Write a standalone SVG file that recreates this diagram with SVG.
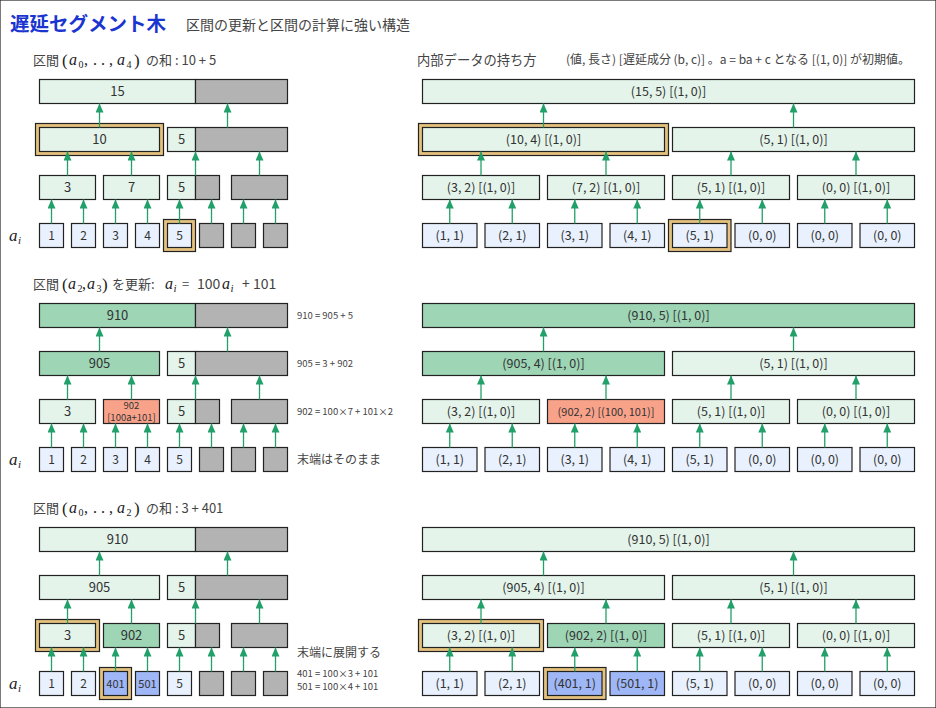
<svg xmlns="http://www.w3.org/2000/svg" width="936" height="708" viewBox="0 0 936 708">
<style>
rect{stroke:#222;stroke-width:1.2}
.lg{fill:#e4f4ea}.mg{fill:#9dd5b5}.sa{fill:#f9a28a}.lb{fill:#e8f1fd}.bl{fill:#9fb7f7}.gr{fill:#b3b3b3}.gd{fill:#e5c27e}
text{font-family:"Noto Sans CJK JP","Noto Sans",sans-serif;fill:#333}
.t{text-anchor:middle;font-size:13px}
.r{text-anchor:middle;font-size:12.5px}
.l{text-anchor:middle;font-size:12px}
.h{font-size:13px;fill:#444}
.m{font-family:"Liberation Serif","DejaVu Serif",serif;font-style:italic;font-size:16px;fill:#222}
.p{font-family:"Liberation Serif","DejaVu Serif",serif;font-size:17px;fill:#222}
.sb{font-size:10px;font-style:normal}
.si{font-size:11px;font-style:italic}
.nt{font-size:9.5px;fill:#444}
.nj{font-size:12px;fill:#444}
#conn line{stroke:#22a06a;stroke-width:1.3;marker-end:url(#ah)}
</style>
<defs>
<marker id="ah" markerUnits="userSpaceOnUse" markerWidth="9" markerHeight="8" viewBox="0 0 9 8" refX="9" refY="4" orient="auto"><path d="M0,0 L9,4 L0,8 z" fill="#22a06a"/></marker>
</defs>
<rect x="0" y="0" width="936" height="708" fill="#fff" stroke="none"/>
<g id="titles">
<text x="10" y="31" style="font-size:19.5px;font-weight:bold;fill:#1a35d0">遅延セグメント木</text>
<text x="186" y="30" style="font-size:14px;fill:#444">区間の更新と区間の計算に強い構造</text>
<text class="h" x="33" y="65">区間</text>
<text class="p" x="62" y="66">(</text>
<text class="m" x="69" y="65">a<tspan class="sb" x="78.5" y="68">0</tspan><tspan x="84" y="65" style="font-style:normal">,</tspan><tspan x="93" y="65" style="font-style:normal">.</tspan><tspan x="101" y="65" style="font-style:normal">.</tspan><tspan x="109" y="65" style="font-style:normal">,</tspan><tspan x="117" y="65">a</tspan><tspan class="sb" x="126.5" y="68">4</tspan></text>
<text class="p" x="134" y="66">)</text>
<text class="h" x="146" y="65">の和 : 10 + 5</text>
<text class="h" x="417" y="65" style="font-size:13.3px">内部データの持ち方</text>
<text x="566" y="64" style="font-size:12px;fill:#444">(値, 長さ) [遅延成分 (b, c)] 。a = ba + c  となる [(1, 0)] が初期値。</text>
<text class="h" x="33" y="289">区間</text>
<text class="p" x="62" y="290">(</text>
<text class="m" x="68" y="289">a<tspan class="sb" x="77.5" y="292">2</tspan><tspan x="82" y="289" style="font-style:normal">,</tspan><tspan x="87" y="289">a</tspan><tspan class="sb" x="96.5" y="292">3</tspan></text>
<text class="p" x="102" y="290">)</text>
<text class="h" x="112" y="289">を更新:</text>
<text class="m" x="165" y="289">a<tspan class="si" x="173.5" y="292">i</tspan></text>
<text class="h" x="182" y="289">=</text>
<text class="h" x="197" y="289" style="font-size:14px">100</text>
<text class="m" x="222" y="289">a<tspan class="si" x="230.5" y="292">i</tspan></text>
<text class="h" x="242" y="289" style="font-size:14px">+ 101</text>
<text class="h" x="33" y="513">区間</text>
<text class="p" x="62" y="514">(</text>
<text class="m" x="69" y="513">a<tspan class="sb" x="78.5" y="516">0</tspan><tspan x="84" y="513" style="font-style:normal">,</tspan><tspan x="93" y="513" style="font-style:normal">.</tspan><tspan x="101" y="513" style="font-style:normal">.</tspan><tspan x="109" y="513" style="font-style:normal">,</tspan><tspan x="117" y="513">a</tspan><tspan class="sb" x="126.5" y="516">2</tspan></text>
<text class="p" x="134" y="514">)</text>
<text class="h" x="146" y="513">の和 : 3 + 401</text>
<text class="m" x="9" y="241" style="font-size:17px">a<tspan class="si" x="18" y="244">i</tspan></text>
<text class="m" x="9" y="465" style="font-size:17px">a<tspan class="si" x="18" y="468">i</tspan></text>
<text class="m" x="9" y="689" style="font-size:17px">a<tspan class="si" x="18" y="692">i</tspan></text>
<text class="nt" x="297" y="319">910 = 905 + 5</text>
<text class="nt" x="297" y="367">905 = 3 + 902</text>
<text class="nt" x="297" y="415">902 = 100×7 + 101×2</text>
<text class="nj" x="297" y="464">末端はそのまま</text>
<text class="nj" x="297" y="657">末端に展開する</text>
<text class="nt" x="297" y="677">401 = 100×3 + 101</text>
<text class="nt" x="297" y="690">501 = 100×4 + 101</text>
</g>
<!-- Section 1 left -->
<g id="s1-L0"><rect class="lg" x="39.5" y="79.5" width="156" height="24"/><rect class="gr" x="195.5" y="79.5" width="92" height="24"/><text class="t" x="117.5" y="96">15</text></g>
<g id="s1-L1a"><rect class="gd" x="35.5" y="123.5" width="128" height="32"/><rect class="lg" x="39.5" y="127.5" width="120" height="24"/><text class="t" x="99.5" y="144">10</text></g>
<g id="s1-L1b"><rect class="lg" x="167.5" y="127.5" width="28" height="24"/><rect class="gr" x="195.5" y="127.5" width="92" height="24"/><text class="t" x="181.5" y="144">5</text></g>
<g id="s1-L2a"><rect class="lg" x="39.5" y="175.5" width="56" height="24"/><text class="t" x="67.5" y="192">3</text></g>
<g id="s1-L2b"><rect class="lg" x="103.5" y="175.5" width="56" height="24"/><text class="t" x="131.5" y="192">7</text></g>
<g id="s1-L2c"><rect class="lg" x="167.5" y="175.5" width="28" height="24"/><rect class="gr" x="195.5" y="175.5" width="24" height="24"/><text class="t" x="181.5" y="192">5</text></g>
<g id="s1-L2d"><rect class="gr" x="231.5" y="175.5" width="56" height="24"/></g>
<g id="s1-a0"><rect class="lb" x="39.5" y="223.5" width="24" height="24"/><text class="l" x="51.5" y="240">1</text></g>
<g id="s1-a1"><rect class="lb" x="71.5" y="223.5" width="24" height="24"/><text class="l" x="83.5" y="240">2</text></g>
<g id="s1-a2"><rect class="lb" x="103.5" y="223.5" width="24" height="24"/><text class="l" x="115.5" y="240">3</text></g>
<g id="s1-a3"><rect class="lb" x="135.5" y="223.5" width="24" height="24"/><text class="l" x="147.5" y="240">4</text></g>
<g id="s1-a4"><rect class="gd" x="163.5" y="219.5" width="32" height="32"/><rect class="lb" x="167.5" y="223.5" width="24" height="24"/><text class="l" x="179.5" y="240">5</text></g>
<g id="s1-a5"><rect class="gr" x="199.5" y="223.5" width="24" height="24"/></g>
<g id="s1-a6"><rect class="gr" x="231.5" y="223.5" width="24" height="24"/></g>
<g id="s1-a7"><rect class="gr" x="263.5" y="223.5" width="24" height="24"/></g>
<!-- Section 1 right -->
<g id="s1-R0"><rect class="lg" x="422.5" y="79.5" width="492" height="24"/><text class="r" x="668.5" y="96">(15, 5) [(1, 0)]</text></g>
<g id="s1-R1a"><rect class="gd" x="418.5" y="123.5" width="250" height="32"/><rect class="lg" x="422.5" y="127.5" width="242" height="24"/><text class="r" x="543.5" y="144">(10, 4) [(1, 0)]</text></g>
<g id="s1-R1b"><rect class="lg" x="672.5" y="127.5" width="242" height="24"/><text class="r" x="793.5" y="144">(5, 1) [(1, 0)]</text></g>
<g id="s1-R2a"><rect class="lg" x="422.5" y="175.5" width="117" height="24"/><text class="r" x="481" y="192">(3, 2) [(1, 0)]</text></g>
<g id="s1-R2b"><rect class="lg" x="547.5" y="175.5" width="117" height="24"/><text class="r" x="606" y="192">(7, 2) [(1, 0)]</text></g>
<g id="s1-R2c"><rect class="lg" x="672.5" y="175.5" width="117" height="24"/><text class="r" x="731" y="192">(5, 1) [(1, 0)]</text></g>
<g id="s1-R2d"><rect class="lg" x="797.5" y="175.5" width="117" height="24"/><text class="r" x="856" y="192">(0, 0) [(1, 0)]</text></g>
<g id="s1-r0"><rect class="lb" x="422.5" y="223.5" width="54.5" height="24"/><text class="r" x="449.75" y="240">(1, 1)</text></g>
<g id="s1-r1"><rect class="lb" x="485" y="223.5" width="54.5" height="24"/><text class="r" x="512.25" y="240">(2, 1)</text></g>
<g id="s1-r2"><rect class="lb" x="547.5" y="223.5" width="54.5" height="24"/><text class="r" x="574.75" y="240">(3, 1)</text></g>
<g id="s1-r3"><rect class="lb" x="610" y="223.5" width="54.5" height="24"/><text class="r" x="637.25" y="240">(4, 1)</text></g>
<g id="s1-r4"><rect class="gd" x="668.5" y="219.5" width="62.5" height="32"/><rect class="lb" x="672.5" y="223.5" width="54.5" height="24"/><text class="r" x="699.75" y="240">(5, 1)</text></g>
<g id="s1-r5"><rect class="lb" x="735" y="223.5" width="54.5" height="24"/><text class="r" x="762.25" y="240">(0, 0)</text></g>
<g id="s1-r6"><rect class="lb" x="797.5" y="223.5" width="54.5" height="24"/><text class="r" x="824.75" y="240">(0, 0)</text></g>
<g id="s1-r7"><rect class="lb" x="860" y="223.5" width="54.5" height="24"/><text class="r" x="887.25" y="240">(0, 0)</text></g>
<!-- Section 2 left -->
<g id="s2-L0"><rect class="mg" x="39.5" y="303.5" width="156" height="24"/><rect class="gr" x="195.5" y="303.5" width="92" height="24"/><text class="t" x="117.5" y="320">910</text></g>
<g id="s2-L1a"><rect class="mg" x="39.5" y="351.5" width="120" height="24"/><text class="t" x="99.5" y="368">905</text></g>
<g id="s2-L1b"><rect class="lg" x="167.5" y="351.5" width="28" height="24"/><rect class="gr" x="195.5" y="351.5" width="92" height="24"/><text class="t" x="181.5" y="368">5</text></g>
<g id="s2-L2a"><rect class="lg" x="39.5" y="399.5" width="56" height="24"/><text class="t" x="67.5" y="416">3</text></g>
<g id="s2-L2b"><rect class="sa" x="103.5" y="399.5" width="56" height="24"/><text class="t" x="131.5" y="408.5" style="font-size:9.5px">902</text><text class="t" x="131.5" y="421" style="font-size:9.5px">[100a+101]</text></g>
<g id="s2-L2c"><rect class="lg" x="167.5" y="399.5" width="28" height="24"/><rect class="gr" x="195.5" y="399.5" width="24" height="24"/><text class="t" x="181.5" y="416">5</text></g>
<g id="s2-L2d"><rect class="gr" x="231.5" y="399.5" width="56" height="24"/></g>
<g id="s2-a0"><rect class="lb" x="39.5" y="447.5" width="24" height="24"/><text class="l" x="51.5" y="464">1</text></g>
<g id="s2-a1"><rect class="lb" x="71.5" y="447.5" width="24" height="24"/><text class="l" x="83.5" y="464">2</text></g>
<g id="s2-a2"><rect class="lb" x="103.5" y="447.5" width="24" height="24"/><text class="l" x="115.5" y="464">3</text></g>
<g id="s2-a3"><rect class="lb" x="135.5" y="447.5" width="24" height="24"/><text class="l" x="147.5" y="464">4</text></g>
<g id="s2-a4"><rect class="lb" x="167.5" y="447.5" width="24" height="24"/><text class="l" x="179.5" y="464">5</text></g>
<g id="s2-a5"><rect class="gr" x="199.5" y="447.5" width="24" height="24"/></g>
<g id="s2-a6"><rect class="gr" x="231.5" y="447.5" width="24" height="24"/></g>
<g id="s2-a7"><rect class="gr" x="263.5" y="447.5" width="24" height="24"/></g>
<!-- Section 2 right -->
<g id="s2-R0"><rect class="mg" x="422.5" y="303.5" width="492" height="24"/><text class="r" x="668.5" y="320">(910, 5) [(1, 0)]</text></g>
<g id="s2-R1a"><rect class="mg" x="422.5" y="351.5" width="242" height="24"/><text class="r" x="543.5" y="368">(905, 4) [(1, 0)]</text></g>
<g id="s2-R1b"><rect class="lg" x="672.5" y="351.5" width="242" height="24"/><text class="r" x="793.5" y="368">(5, 1) [(1, 0)]</text></g>
<g id="s2-R2a"><rect class="lg" x="422.5" y="399.5" width="117" height="24"/><text class="r" x="481" y="416">(3, 2) [(1, 0)]</text></g>
<g id="s2-R2b"><rect class="sa" x="547.5" y="399.5" width="117" height="24"/><text class="r" x="606" y="416" style="font-size:11px">(902, 2) [(100, 101)]</text></g>
<g id="s2-R2c"><rect class="lg" x="672.5" y="399.5" width="117" height="24"/><text class="r" x="731" y="416">(5, 1) [(1, 0)]</text></g>
<g id="s2-R2d"><rect class="lg" x="797.5" y="399.5" width="117" height="24"/><text class="r" x="856" y="416">(0, 0) [(1, 0)]</text></g>
<g id="s2-r0"><rect class="lb" x="422.5" y="447.5" width="54.5" height="24"/><text class="r" x="449.75" y="464">(1, 1)</text></g>
<g id="s2-r1"><rect class="lb" x="485" y="447.5" width="54.5" height="24"/><text class="r" x="512.25" y="464">(2, 1)</text></g>
<g id="s2-r2"><rect class="lb" x="547.5" y="447.5" width="54.5" height="24"/><text class="r" x="574.75" y="464">(3, 1)</text></g>
<g id="s2-r3"><rect class="lb" x="610" y="447.5" width="54.5" height="24"/><text class="r" x="637.25" y="464">(4, 1)</text></g>
<g id="s2-r4"><rect class="lb" x="672.5" y="447.5" width="54.5" height="24"/><text class="r" x="699.75" y="464">(5, 1)</text></g>
<g id="s2-r5"><rect class="lb" x="735" y="447.5" width="54.5" height="24"/><text class="r" x="762.25" y="464">(0, 0)</text></g>
<g id="s2-r6"><rect class="lb" x="797.5" y="447.5" width="54.5" height="24"/><text class="r" x="824.75" y="464">(0, 0)</text></g>
<g id="s2-r7"><rect class="lb" x="860" y="447.5" width="54.5" height="24"/><text class="r" x="887.25" y="464">(0, 0)</text></g>
<!-- Section 3 left -->
<g id="s3-L0"><rect class="lg" x="39.5" y="527.5" width="156" height="24"/><rect class="gr" x="195.5" y="527.5" width="92" height="24"/><text class="t" x="117.5" y="544">910</text></g>
<g id="s3-L1a"><rect class="lg" x="39.5" y="575.5" width="120" height="24"/><text class="t" x="99.5" y="592">905</text></g>
<g id="s3-L1b"><rect class="lg" x="167.5" y="575.5" width="28" height="24"/><rect class="gr" x="195.5" y="575.5" width="92" height="24"/><text class="t" x="181.5" y="592">5</text></g>
<g id="s3-L2a"><rect class="gd" x="35.5" y="619.5" width="64" height="32"/><rect class="lg" x="39.5" y="623.5" width="56" height="24"/><text class="t" x="67.5" y="640">3</text></g>
<g id="s3-L2b"><rect class="mg" x="103.5" y="623.5" width="56" height="24"/><text class="t" x="131.5" y="640">902</text></g>
<g id="s3-L2c"><rect class="lg" x="167.5" y="623.5" width="28" height="24"/><rect class="gr" x="195.5" y="623.5" width="24" height="24"/><text class="t" x="181.5" y="640">5</text></g>
<g id="s3-L2d"><rect class="gr" x="231.5" y="623.5" width="56" height="24"/></g>
<g id="s3-a0"><rect class="lb" x="39.5" y="671.5" width="24" height="24"/><text class="l" x="51.5" y="688">1</text></g>
<g id="s3-a1"><rect class="lb" x="71.5" y="671.5" width="24" height="24"/><text class="l" x="83.5" y="688">2</text></g>
<g id="s3-a2"><rect class="gd" x="99.5" y="667.5" width="32" height="32"/><rect class="bl" x="103.5" y="671.5" width="24" height="24"/><text class="l" x="115.5" y="688" style="font-size:11px">401</text></g>
<g id="s3-a3"><rect class="bl" x="135.5" y="671.5" width="24" height="24"/><text class="l" x="147.5" y="688" style="font-size:11px">501</text></g>
<g id="s3-a4"><rect class="lb" x="167.5" y="671.5" width="24" height="24"/><text class="l" x="179.5" y="688">5</text></g>
<g id="s3-a5"><rect class="gr" x="199.5" y="671.5" width="24" height="24"/></g>
<g id="s3-a6"><rect class="gr" x="231.5" y="671.5" width="24" height="24"/></g>
<g id="s3-a7"><rect class="gr" x="263.5" y="671.5" width="24" height="24"/></g>
<!-- Section 3 right -->
<g id="s3-R0"><rect class="lg" x="422.5" y="527.5" width="492" height="24"/><text class="r" x="668.5" y="544">(910, 5) [(1, 0)]</text></g>
<g id="s3-R1a"><rect class="lg" x="422.5" y="575.5" width="242" height="24"/><text class="r" x="543.5" y="592">(905, 4) [(1, 0)]</text></g>
<g id="s3-R1b"><rect class="lg" x="672.5" y="575.5" width="242" height="24"/><text class="r" x="793.5" y="592">(5, 1) [(1, 0)]</text></g>
<g id="s3-R2a"><rect class="gd" x="418.5" y="619.5" width="125" height="32"/><rect class="lg" x="422.5" y="623.5" width="117" height="24"/><text class="r" x="481" y="640">(3, 2) [(1, 0)]</text></g>
<g id="s3-R2b"><rect class="mg" x="547.5" y="623.5" width="117" height="24"/><text class="r" x="606" y="640">(902, 2) [(1, 0)]</text></g>
<g id="s3-R2c"><rect class="lg" x="672.5" y="623.5" width="117" height="24"/><text class="r" x="731" y="640">(5, 1) [(1, 0)]</text></g>
<g id="s3-R2d"><rect class="lg" x="797.5" y="623.5" width="117" height="24"/><text class="r" x="856" y="640">(0, 0) [(1, 0)]</text></g>
<g id="s3-r0"><rect class="lb" x="422.5" y="671.5" width="54.5" height="24"/><text class="r" x="449.75" y="688">(1, 1)</text></g>
<g id="s3-r1"><rect class="lb" x="485" y="671.5" width="54.5" height="24"/><text class="r" x="512.25" y="688">(2, 1)</text></g>
<g id="s3-r2"><rect class="gd" x="543.5" y="667.5" width="62.5" height="32"/><rect class="bl" x="547.5" y="671.5" width="54.5" height="24"/><text class="r" x="574.75" y="688">(401, 1)</text></g>
<g id="s3-r3"><rect class="bl" x="610" y="671.5" width="54.5" height="24"/><text class="r" x="637.25" y="688">(501, 1)</text></g>
<g id="s3-r4"><rect class="lb" x="672.5" y="671.5" width="54.5" height="24"/><text class="r" x="699.75" y="688">(5, 1)</text></g>
<g id="s3-r5"><rect class="lb" x="735" y="671.5" width="54.5" height="24"/><text class="r" x="762.25" y="688">(0, 0)</text></g>
<g id="s3-r6"><rect class="lb" x="797.5" y="671.5" width="54.5" height="24"/><text class="r" x="824.75" y="688">(0, 0)</text></g>
<g id="s3-r7"><rect class="lb" x="860" y="671.5" width="54.5" height="24"/><text class="r" x="887.25" y="688">(0, 0)</text></g>
<g id="conn">
<g id="c1">
<line x1="51.5" y1="223.5" x2="51.5" y2="199.5"/><line x1="83.5" y1="223.5" x2="83.5" y2="199.5"/><line x1="115.5" y1="223.5" x2="115.5" y2="199.5"/><line x1="147.5" y1="223.5" x2="147.5" y2="199.5"/><line x1="179.5" y1="223.5" x2="179.5" y2="199.5"/><line x1="211.5" y1="223.5" x2="211.5" y2="199.5"/><line x1="243.5" y1="223.5" x2="243.5" y2="199.5"/><line x1="275.5" y1="223.5" x2="275.5" y2="199.5"/>
<line x1="67.5" y1="175.5" x2="67.5" y2="151.5"/><line x1="131.5" y1="175.5" x2="131.5" y2="151.5"/><line x1="195.5" y1="175.5" x2="195.5" y2="151.5"/><line x1="259.5" y1="175.5" x2="259.5" y2="151.5"/>
<line x1="99.5" y1="127.5" x2="99.5" y2="103.5"/><line x1="227.5" y1="127.5" x2="227.5" y2="103.5"/>
<line x1="449.75" y1="223.5" x2="449.75" y2="199.5"/><line x1="512.25" y1="223.5" x2="512.25" y2="199.5"/><line x1="574.75" y1="223.5" x2="574.75" y2="199.5"/><line x1="637.25" y1="223.5" x2="637.25" y2="199.5"/><line x1="699.75" y1="223.5" x2="699.75" y2="199.5"/><line x1="762.25" y1="223.5" x2="762.25" y2="199.5"/><line x1="824.75" y1="223.5" x2="824.75" y2="199.5"/><line x1="887.25" y1="223.5" x2="887.25" y2="199.5"/>
<line x1="481" y1="175.5" x2="481" y2="151.5"/><line x1="606" y1="175.5" x2="606" y2="151.5"/><line x1="731" y1="175.5" x2="731" y2="151.5"/><line x1="856" y1="175.5" x2="856" y2="151.5"/>
<line x1="543.5" y1="127.5" x2="543.5" y2="103.5"/><line x1="793.5" y1="127.5" x2="793.5" y2="103.5"/>
</g>
<use href="#c1" y="224"/>
<use href="#c1" y="448"/>
</g>
</svg>
